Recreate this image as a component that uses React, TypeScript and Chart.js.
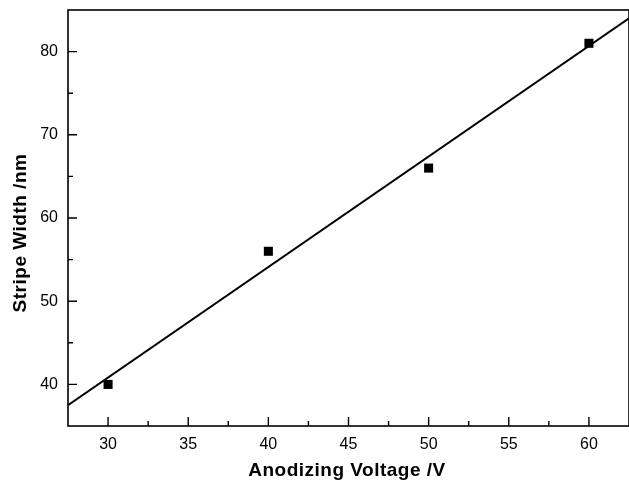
import React, { useEffect, useRef } from "react";
import { Chart, registerables } from "chart.js";

Chart.register(...registerables);

// Measured data points
const voltages = [30, 40, 50, 60];
const stripeWidths = [40, 56, 66, 81];

// Linear fit line endpoints
const fitX = [27.5, 62.5];
const fitY = [37.5, 84.0];

// Axes
const xMin = 27.5;
const xMax = 62.5;
const yMin = 35;
const yMax = 85;
const xMajorTicks = [30, 35, 40, 45, 50, 55, 60];
const xMinorTicks = [32.5, 37.5, 42.5, 47.5, 52.5, 57.5];
const yMajorTicks = [40, 50, 60, 70, 80];
const yMinorTicks = [45, 55, 65, 75];

const xTitle = "Anodizing Voltage /V";
const yTitle = "Stripe Width /nm";

const FONT = "'Liberation Sans', Arial, Helvetica, sans-serif";

function zeroPad(scale: any) {
  scale.paddingTop = 0;
  scale.paddingBottom = 0;
  scale.paddingLeft = 0;
  scale.paddingRight = 0;
}

export default function App() {
  const ref = useRef<HTMLCanvasElement | null>(null);

  useEffect(() => {
    document.body.style.margin = "0";
    const canvas = ref.current;
    if (!canvas) return;

    const framePlugin = {
      id: "frame",
      afterDraw(chart: any) {
        const { ctx, chartArea } = chart;
        const xs = chart.scales.x;
        const ys = chart.scales.y;
        const { left, right, top, bottom } = chartArea;
        ctx.save();
        ctx.strokeStyle = "#000";
        ctx.lineWidth = 1.6;
        ctx.strokeRect(left, top, right - left, bottom - top);
        ctx.lineWidth = 1.4;
        ctx.beginPath();
        xMajorTicks.forEach((v) => {
          const px = xs.getPixelForValue(v);
          ctx.moveTo(px, bottom);
          ctx.lineTo(px, bottom - 9);
        });
        xMinorTicks.forEach((v) => {
          const px = xs.getPixelForValue(v);
          ctx.moveTo(px, bottom);
          ctx.lineTo(px, bottom - 5);
        });
        yMajorTicks.forEach((v) => {
          const py = ys.getPixelForValue(v);
          ctx.moveTo(left, py);
          ctx.lineTo(left + 9, py);
        });
        yMinorTicks.forEach((v) => {
          const py = ys.getPixelForValue(v);
          ctx.moveTo(left, py);
          ctx.lineTo(left + 5, py);
        });
        ctx.stroke();

        ctx.fillStyle = "#000";
        ctx.font = `bold 19px ${FONT}`;
        try {
          (ctx as any).letterSpacing = "0.5px";
        } catch (e) {}
        ctx.textAlign = "center";
        ctx.textBaseline = "alphabetic";
        ctx.fillText(xTitle, 347, 476);
        ctx.translate(26, 233);
        ctx.rotate(-Math.PI / 2);
        ctx.fillText(yTitle, 0, 0);
        ctx.restore();
      },
    };

    const chart = new Chart(canvas, {
      type: "scatter",
      data: {
        datasets: [
          {
            type: "line",
            label: "fit",
            data: fitX.map((x, i) => ({ x, y: fitY[i] })),
            borderColor: "#000",
            borderWidth: 2,
            pointRadius: 0,
            fill: false,
            order: 2,
          } as any,
          {
            type: "scatter",
            label: "data",
            data: voltages.map((x, i) => ({ x, y: stripeWidths[i] })),
            pointStyle: "rect",
            pointRadius: 6.4,
            backgroundColor: "#000",
            borderColor: "#000",
            borderWidth: 0,
            order: 1,
          },
        ],
      },
      options: {
        responsive: false,
        animation: false,
        layout: { autoPadding: false, padding: { top: 10, right: 0, left: 0, bottom: 0 } },
        plugins: {
          legend: { display: false },
          tooltip: { enabled: false },
        },
        scales: {
          x: {
            type: "linear",
            position: "bottom",
            min: xMin,
            max: xMax,
            grid: { display: false, drawTicks: false },
            border: { display: false },
            ticks: {
              padding: 9,
              color: "#000",
              font: { family: FONT, size: 16 },
              maxRotation: 0,
            },
            afterBuildTicks: (scale: any) => {
              scale.ticks = xMajorTicks.map((v) => ({ value: v }));
            },
            afterFit: (scale: any) => {
              scale.height = 55;
              zeroPad(scale);
            },
          },
          y: {
            type: "linear",
            position: "left",
            min: yMin,
            max: yMax,
            grid: { display: false, drawTicks: false },
            border: { display: false },
            ticks: {
              padding: 10,
              color: "#000",
              font: { family: FONT, size: 16 },
            },
            afterBuildTicks: (scale: any) => {
              scale.ticks = yMajorTicks.map((v) => ({ value: v }));
            },
            afterFit: (scale: any) => {
              scale.width = 68;
              zeroPad(scale);
            },
          },
        },
      },
      plugins: [framePlugin],
    });

    return () => chart.destroy();
  }, []);

  return (
    <div style={{ width: 629, height: 481 }}>
      <canvas ref={ref} width={629} height={481} style={{ display: "block" }} />
    </div>
  );
}
